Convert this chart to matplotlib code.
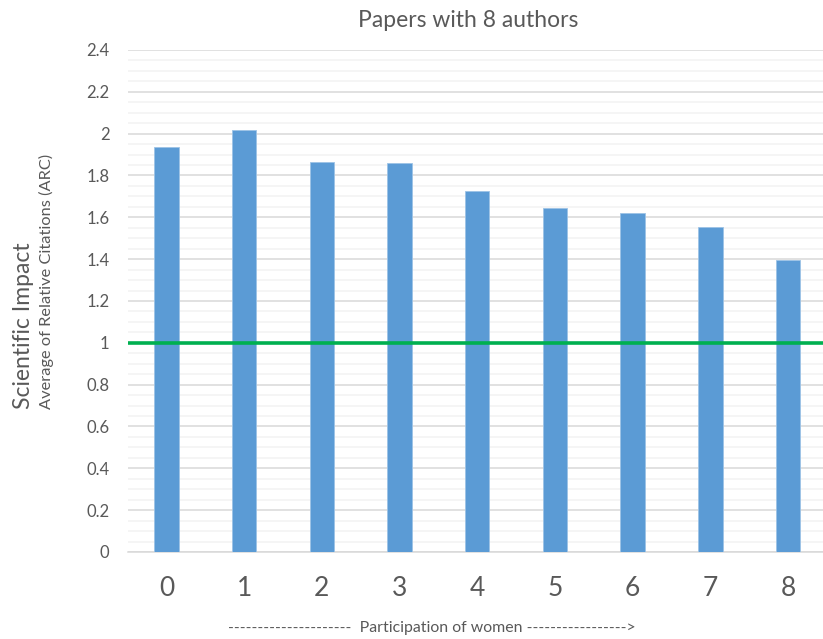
import numpy as np
import matplotlib.pyplot as plt
from matplotlib.ticker import MultipleLocator

plt.rcParams['font.family'] = ['Lato', 'DejaVu Sans']

women = ['0', '1', '2', '3', '4', '5', '6', '7', '8']
arc = [1.937, 2.015, 1.866, 1.862, 1.724, 1.646, 1.621, 1.556, 1.395]
baseline = 1.0

text_col = '#595959'
bar_col = '#5B9BD5'

fig = plt.figure(figsize=(8.23, 6.39), dpi=100)
ax = fig.add_axes([0.155, 0.1362, 0.8498, 0.7856])

x = np.arange(len(women))
ax.bar(x, arc, width=0.314, color=bar_col, edgecolor='#9DC3E6', linewidth=0.6, zorder=3)
ax.axhline(baseline, color='#00B050', linewidth=2.6, zorder=4)

ax.set_xlim(-0.5, len(women) - 0.5)
ax.set_ylim(0, 2.4)
ax.yaxis.set_major_locator(MultipleLocator(0.2))
ax.yaxis.set_minor_locator(MultipleLocator(0.05))
ax.grid(axis='y', which='major', color='#D9D9D9', linewidth=1.1, zorder=0)
ax.grid(axis='y', which='minor', color='#F2F2F2', linewidth=1.1, zorder=0)
ax.set_axisbelow(True)

ax.set_xticks(x)
ax.set_xticklabels(women)
ax.set_yticks(np.arange(0, 2.41, 0.2))
ax.set_yticklabels(['0', '0.2', '0.4', '0.6', '0.8', '1', '1.2', '1.4', '1.6',
                    '1.8', '2', '2.2', '2.4'])
ax.tick_params(axis='x', length=0, pad=17, labelsize=19, labelcolor=text_col)
ax.tick_params(axis='y', which='both', length=0, pad=13, labelsize=12, labelcolor=text_col)

for s in ['top', 'right', 'left']:
    ax.spines[s].set_visible(False)
ax.spines['bottom'].set_color('#D9D9D9')
ax.spines['bottom'].set_linewidth(1.1)

fig.text(0.569, 0.968, 'Papers with 8 authors', ha='center', va='center',
         fontsize=16.5, color=text_col)
fig.text(0.028, 0.49, 'Scientific Impact', rotation=90, ha='center', va='center',
         fontsize=16.5, color=text_col)
fig.text(0.056, 0.56, 'Average of Relative Citations (ARC)', rotation=90,
         ha='center', va='center', fontsize=11.8, color=text_col)
fig.text(0.525, 0.017,
         '---------------------  Participation of women ----------------->',
         ha='center', va='center', fontsize=11.4, color=text_col)

fig.savefig('out.png', dpi=100)
